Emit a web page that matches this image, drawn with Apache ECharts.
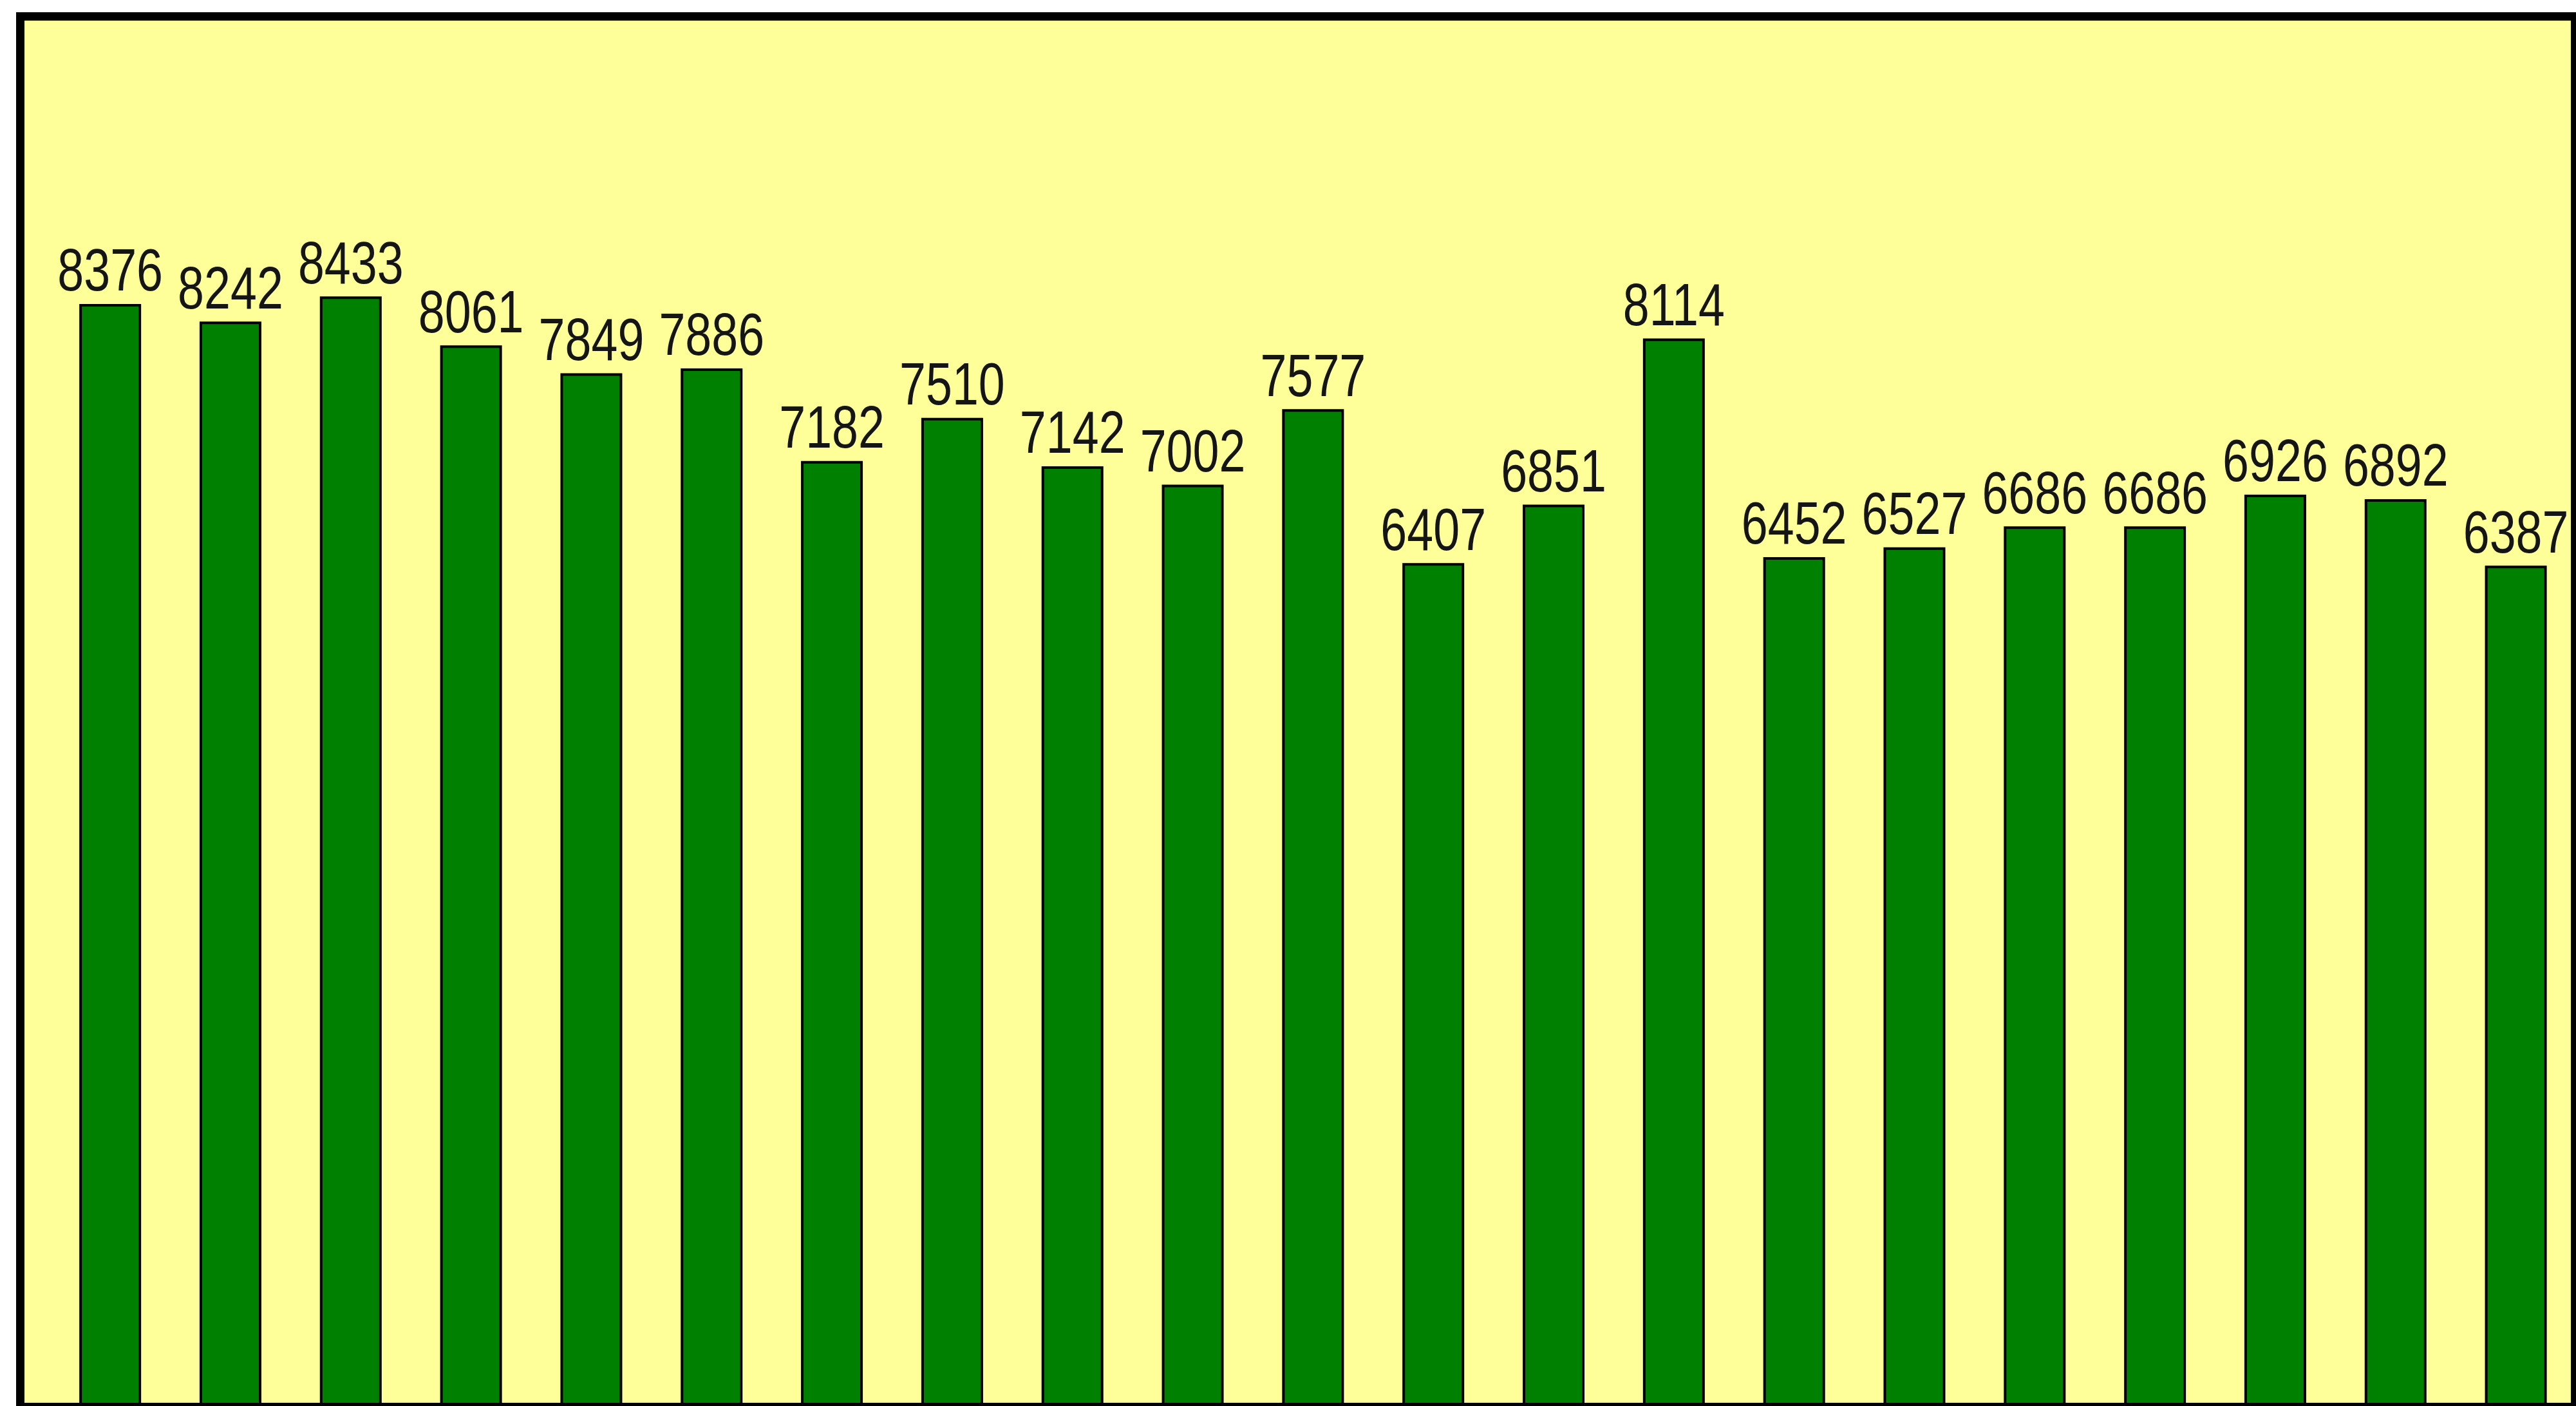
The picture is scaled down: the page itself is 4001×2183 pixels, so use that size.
<!DOCTYPE html>
<html>
<head>
<meta charset="utf-8">
<script src="https://cdn.jsdelivr.net/npm/echarts@6/dist/echarts.min.js"></script>
<style>
  html, body { margin: 0; padding: 0; background: #ffffff; }
  #chart { width: 4001px; height: 2183px; }
</style>
</head>
<body>
<div id="chart"></div>
<script>
// ---- data ----
const categories = ['1', '2', '3', '4', '5', '6', '7', '8', '9', '10', '11',
                    '12', '13', '14', '15', '16', '17', '18', '19', '20', '21'];
const values = [8376, 8242, 8433, 8061, 7849, 7886, 7182, 7510, 7142, 7002, 7577,
                6407, 6851, 8114, 6452, 6527, 6686, 6686, 6926, 6892, 6387];
const yMin = 0;
const yMax = 10500;
const yInterval = 1000;

// ---- layout / style ----
const frame = { x: 31.5, y: 25.5, width: 3968, height: 2159, line: 13 };
const gridLeft = 77.75;
const gridWidth = 3958.5;
const labelFont = '"Liberation Sans Narrow", "Liberation Sans", Arial, sans-serif';

const chart = echarts.init(document.getElementById('chart'), null, { renderer: 'canvas' });
chart.setOption({
  animation: false,
  backgroundColor: '#ffffff',
  grid: { left: gridLeft, top: 38, width: gridWidth, bottom: 0, containLabel: false },
  xAxis: {
    type: 'category',
    data: categories,
    boundaryGap: true,
    axisLine: { show: false },
    axisTick: { show: false },
    axisLabel: { show: false },
    splitLine: { show: false }
  },
  yAxis: {
    type: 'value',
    min: yMin,
    max: yMax,
    interval: yInterval,
    offset: gridLeft - 31,
    axisLine: { show: false },
    axisTick: { show: true, inside: false, length: 6, lineStyle: { color: '#e4e4e4', width: 7 } },
    axisLabel: { show: false },
    splitLine: { show: false }
  },
  series: [
    {
      type: 'bar',
      data: values,
      barWidth: 96,
      itemStyle: { color: '#008000', borderColor: '#000000', borderWidth: 4 },
      label: { show: false }
    },
    {
      type: 'custom',
      data: values.map(function (v, i) { return [i, v]; }),
      encode: { x: 0, y: 1 },
      z: 5,
      silent: true,
      renderItem: function (params, api) {
        const p = api.coord([api.value(0), api.value(1)]);
        return {
          type: 'text',
          x: p[0],
          y: p[1],
          scaleX: 0.8,
          style: {
            text: String(api.value(1)),
            fontSize: 92,
            fontFamily: labelFont,
            fill: '#151515',
            align: 'center',
            verticalAlign: 'bottom'
          }
        };
      }
    }
  ],
  graphic: [
    {
      type: 'rect', z: -10, silent: true,
      shape: { x: frame.x, y: frame.y, width: frame.width, height: frame.height },
      style: { fill: '#FFFF99' }
    },
    {
      type: 'rect', z: 100, silent: true,
      shape: { x: frame.x, y: frame.y, width: frame.width, height: frame.height },
      style: { fill: 'transparent', stroke: '#000000', lineWidth: frame.line }
    }
  ]
});
</script>
</body>
</html>
